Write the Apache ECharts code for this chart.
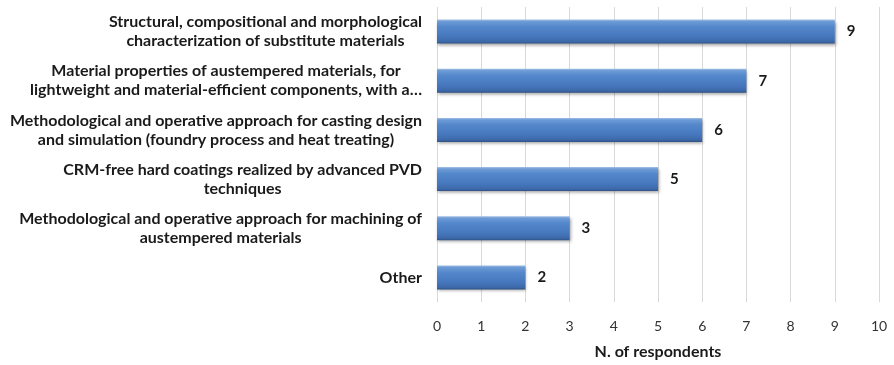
<!DOCTYPE html>
<html>
<head>
<meta charset="utf-8">
<script src="https://cdn.jsdelivr.net/npm/echarts@6/dist/echarts.min.js"></script>
<style>
  html, body { margin: 0; padding: 0; background: #fff; }
  #chart { width: 894px; height: 365px; }
</style>
</head>
<body>
<div id="chart"></div>
<script>
// Research topics (top to bottom) and how many respondents picked each
var categories = [
  'Structural, compositional and morphological\ncharacterization of substitute materials',
  'Material properties of austempered materials, for\nlightweight and material-efficient components, with a…',
  'Methodological and operative approach for casting design\nand simulation (foundry process and heat treating)',
  'CRM-free hard coatings realized by advanced PVD\ntechniques',
  'Methodological and operative approach for machining of\naustempered materials',
  'Other'
];
var respondents = [9, 7, 6, 5, 3, 2];
var axisTitle = 'N. of respondents';
var xMin = 0, xMax = 10, xStep = 1;

var FONT = 'Lato, "Open Sans", sans-serif';

// Glossy blue fill for the bars
var barFill = new echarts.graphic.LinearGradient(0, 0, 0, 1, [
  { offset: 0, color: '#a3c0e6' },
  { offset: 0.08, color: '#6d9bd6' },
  { offset: 0.3, color: '#5387cb' },
  { offset: 0.7, color: '#4677bd' },
  { offset: 0.92, color: '#3c68a8' },
  { offset: 1, color: '#2e5184' }
]);

var chart = echarts.init(document.getElementById('chart'), null, { renderer: 'canvas' });
chart.setOption({
  animation: false,
  backgroundColor: '#ffffff',
  grid: { left: 437, right: 15, top: 7, bottom: 58, containLabel: false },
  xAxis: {
    type: 'value',
    min: xMin,
    max: xMax,
    interval: xStep,
    name: axisTitle,
    nameLocation: 'middle',
    nameGap: 42,
    nameTextStyle: { fontFamily: FONT, fontWeight: 'bold', fontSize: 16, color: '#1a1a1a' },
    axisLine: { show: false },
    axisTick: { show: false },
    axisLabel: { fontFamily: FONT, fontSize: 14, color: '#333333', margin: 17 },
    splitLine: { show: true, lineStyle: { color: '#d9d9d9', width: 1 } }
  },
  yAxis: {
    type: 'category',
    inverse: true,
    data: categories,
    axisLine: { show: false },
    axisTick: { show: false },
    axisLabel: {
      margin: 15,
      align: 'right',
      formatter: function (v) {
        return v.split('\n').map(function (s) { return '{c|' + s + '}'; }).join('\n');
      },
      rich: {
        c: { align: 'center', fontFamily: FONT, fontWeight: 'bold', fontSize: 16, color: '#1a1a1a', lineHeight: 19 }
      }
    }
  },
  series: [{
    type: 'bar',
    data: respondents,
    barWidth: 24,
    itemStyle: {
      color: barFill,
      shadowColor: 'rgba(0,0,0,0.35)',
      shadowBlur: 3,
      shadowOffsetY: 2,
      shadowOffsetX: 1
    },
    label: {
      show: true,
      position: 'right',
      distance: 12,
      fontFamily: FONT,
      fontWeight: 'bold',
      fontSize: 15,
      color: '#1a1a1a'
    }
  }]
});
</script>
</body>
</html>
